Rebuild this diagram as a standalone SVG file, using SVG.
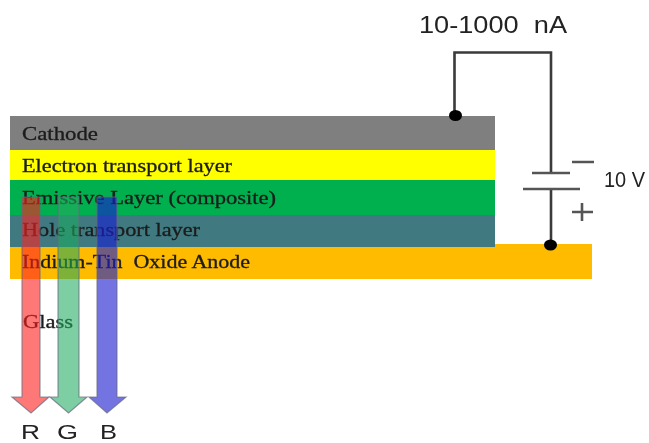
<svg xmlns="http://www.w3.org/2000/svg" width="649" height="443" viewBox="0 0 649 443">
<defs>
<filter id="soft" x="-5%" y="-5%" width="110%" height="110%"><feGaussianBlur stdDeviation="0.7"/></filter>
</defs>
<style>
.layer-label{font-family:"Liberation Serif",serif;font-size:18px;fill:#1c1c1c;stroke:#1c1c1c;stroke-width:.3}
.sans{font-family:"Liberation Sans",Arial,sans-serif;fill:#222}
.wire{fill:none;stroke:#3a3a3a;stroke-width:2.6}
.plate{fill:none;stroke:#555;stroke-width:2.6}
.dot{fill:#000}
.arrow{stroke:#666a80;stroke-width:1.2;stroke-opacity:.7}
</style>
<rect width="649" height="443" fill="#fff"/>
<g filter="url(#soft)">
<g id="anode"><rect x="10" y="244" width="582" height="35" fill="#ffbb00"/><text class="layer-label" x="22" y="268" textLength="228" lengthAdjust="spacingAndGlyphs" xml:space="preserve">Indium-Tin  Oxide Anode</text></g>
<g id="cathode"><rect x="10" y="116" width="485" height="34" fill="#7f7f7f"/><text class="layer-label" x="22" y="140" textLength="76" lengthAdjust="spacingAndGlyphs">Cathode</text></g>
<g id="electron-transport"><rect x="10" y="150" width="485" height="30" fill="#ffff00"/><text class="layer-label" x="22" y="172" textLength="210" lengthAdjust="spacingAndGlyphs">Electron transport layer</text></g>
<g id="emissive"><rect x="10" y="180" width="485" height="35" fill="#00b050"/><text class="layer-label" x="22" y="204" textLength="254" lengthAdjust="spacingAndGlyphs">Emissive Layer (composite)</text></g>
<g id="hole-transport"><rect x="10" y="215" width="485" height="32" fill="#3f7a80"/><text class="layer-label" x="22" y="236" textLength="178" lengthAdjust="spacingAndGlyphs">Hole transport layer</text></g>
<g id="glass"><text class="layer-label" x="23" y="328" textLength="50" lengthAdjust="spacingAndGlyphs">Glass</text></g>
<g id="connectors">
<path class="wire" d="M454.500 114V52.500H551V173"/>
<path class="wire" d="M551 189V244"/>
<ellipse class="dot" cx="455.500" cy="115.500" rx="6.500" ry="5.500"/>
<ellipse class="dot" cx="550.500" cy="245" rx="6.500" ry="5.500"/>
</g>
<g id="battery">
<path class="plate" d="M532 173H570M523 189H580M572 162H594M572 212H593M582 203V221"/>
<text class="sans" x="604" y="187" font-size="22" textLength="41" lengthAdjust="spacingAndGlyphs">10 V</text>
</g>
<g id="current-label"><text class="sans" x="419" y="33" font-size="23" textLength="148" lengthAdjust="spacingAndGlyphs" xml:space="preserve">10-1000  nA</text></g>
<g id="arrow-r"><path class="arrow" d="M22 197H40V397H49L31 413L12 397H22Z" fill="#ff2020" fill-opacity=".6"/><text class="sans" x="21" y="438.500" font-size="21" textLength="19" lengthAdjust="spacingAndGlyphs">R</text></g>
<g id="arrow-g"><path class="arrow" d="M58 197H79V397H87L68.500 413L50 397H58Z" fill="#1faa5f" fill-opacity=".58"/><text class="sans" x="57" y="438.500" font-size="21" textLength="21" lengthAdjust="spacingAndGlyphs">G</text></g>
<g id="arrow-b"><path class="arrow" d="M97 197H117V397H126L107 413L89 397H97Z" fill="#1a20d0" fill-opacity=".62"/><text class="sans" x="100" y="438.500" font-size="21" textLength="17" lengthAdjust="spacingAndGlyphs">B</text></g>
</g>
</svg>
